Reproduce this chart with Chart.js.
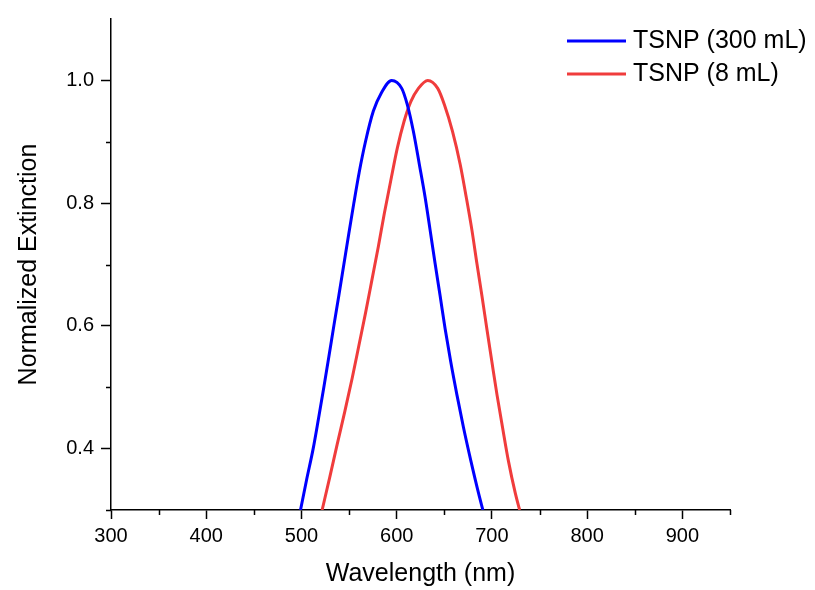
<!DOCTYPE html>
<html>
<head>
<meta charset="utf-8">
<script src="https://cdn.jsdelivr.net/npm/chart.js@4.4.1/dist/chart.umd.min.js"></script>
<style>
  html, body { margin: 0; padding: 0; background: #fff; }
  #wrap { width: 815px; height: 590px; }
</style>
</head>
<body>
<div id="wrap"><canvas id="spectra"></canvas></div>
<script>
// data
var seriesNames = ['TSNP (300 mL)', 'TSNP (8 mL)'];

var wave300 = [499, 505.5, 512.3, 518, 523.5, 528.8, 534, 539.3, 544.5, 549.7, 555, 560.6, 567.2, 575.5, 584, 594.7,
               605.3, 611.2, 617.5, 623.8, 629.8, 635.1, 640.3, 645.6, 650.9, 656.8, 663.2, 670.2, 677.9, 686, 690.5];
var ext300 = [0.30, 0.35, 0.40, 0.45, 0.50, 0.55, 0.60, 0.65, 0.70, 0.75, 0.80, 0.85, 0.90, 0.95, 0.98, 1.0,
              0.987, 0.960, 0.917, 0.863, 0.810, 0.756, 0.702, 0.649, 0.595, 0.541, 0.488, 0.434, 0.380, 0.327, 0.30];

var wave8 = [521.7, 529.8, 537.5, 545.6, 553.3, 560.3, 567.4, 574, 580.7, 587, 593.7, 600.7, 607.7, 614.7, 622.8, 632.6,
             643.1, 650.2, 658.6, 666.7, 673, 679, 684.2, 689.5, 694.7, 700, 705.3, 711.2, 717.3, 724.6, 729.1];
var ext8 = [0.30, 0.354, 0.407, 0.461, 0.515, 0.568, 0.622, 0.675, 0.729, 0.783, 0.836, 0.890, 0.933, 0.965, 0.987, 1.0,
            0.987, 0.960, 0.917, 0.863, 0.810, 0.756, 0.702, 0.649, 0.595, 0.541, 0.488, 0.434, 0.380, 0.327, 0.30];

var xTicks = [300, 400, 500, 600, 700, 800, 900];
var xMinor = [350, 450, 550, 650, 750, 850, 950];
var yTicks = [0.4, 0.6, 0.8, 1.0];
var yMinor = [0.3, 0.5, 0.7, 0.9];

var colors = ['#0000ff', '#f03c3c'];

function toPoints(xs, ys) {
  var pts = [];
  for (var i = 0; i < xs.length; i++) {
    pts.push({ x: xs[i], y: ys[i] });
  }
  return pts;
}

var tickFont = { family: 'Arial, "Liberation Sans", sans-serif', size: 20 };
var titleFont = { family: 'Arial, "Liberation Sans", sans-serif', size: 25 };

// short ticks in between the labelled ones
var minorTicks = {
  id: 'minorTicks',
  afterDraw: function (chart) {
    var ctx = chart.ctx;
    var xs = chart.scales.x;
    var ys = chart.scales.y;
    ctx.save();
    ctx.strokeStyle = '#000';
    ctx.lineWidth = 1.5;
    ctx.beginPath();
    xMinor.forEach(function (v) {
      var px = Math.round(xs.getPixelForValue(v)) + 0.5;
      ctx.moveTo(px, xs.top);
      ctx.lineTo(px, xs.top + 5);
    });
    yMinor.forEach(function (v) {
      var py = Math.round(ys.getPixelForValue(v)) + 0.5;
      ctx.moveTo(ys.right, py);
      ctx.lineTo(ys.right - 5, py);
    });
    ctx.stroke();
    ctx.restore();
  }
};

// legend in the top right corner of the plot
var cornerLegend = {
  id: 'cornerLegend',
  afterDraw: function (chart) {
    var ctx = chart.ctx;
    var area = chart.chartArea;
    var x0 = area.right - 163;
    var y0 = area.top + 22;
    ctx.save();
    ctx.font = '25px Arial, "Liberation Sans", sans-serif';
    ctx.textBaseline = 'middle';
    chart.data.datasets.forEach(function (ds, i) {
      var y = y0 + i * 33;
      ctx.strokeStyle = ds.borderColor;
      ctx.lineWidth = 3;
      ctx.beginPath();
      ctx.moveTo(x0, y);
      ctx.lineTo(x0 + 59, y);
      ctx.stroke();
      ctx.fillStyle = '#000';
      ctx.fillText(ds.label, x0 + 66, y);
    });
    ctx.restore();
  }
};

var ctx = document.getElementById('spectra').getContext('2d');
var chart = new Chart(ctx, {
  type: 'line',
  data: {
    datasets: [
      {
        label: seriesNames[0],
        data: toPoints(wave300, ext300),
        borderColor: colors[0],
        borderWidth: 3,
        pointRadius: 0,
        fill: false,
        cubicInterpolationMode: 'monotone'
      },
      {
        label: seriesNames[1],
        data: toPoints(wave8, ext8),
        borderColor: colors[1],
        borderWidth: 3,
        pointRadius: 0,
        fill: false,
        cubicInterpolationMode: 'monotone'
      }
    ]
  },
  options: {
    responsive: true,
    maintainAspectRatio: false,
    animation: false,
    layout: { padding: { top: 13, right: 85, left: 0, bottom: 0 } },
    plugins: {
      legend: { display: false },
      tooltip: { enabled: false }
    },
    scales: {
      x: {
        type: 'linear',
        min: 300,
        max: 950,
        afterBuildTicks: function (scale) {
          scale.ticks = xTicks.map(function (v) { return { value: v }; });
        },
        afterFit: function (scale) { scale.height = 80; },
        grid: { display: true, drawOnChartArea: false, tickLength: 9, tickWidth: 1.5, tickColor: '#000' },
        border: { display: true, color: '#000', width: 1.5 },
        ticks: { color: '#000', font: tickFont, padding: 5, maxRotation: 0 },
        title: { display: true, text: 'Wavelength (nm)', color: '#000', font: titleFont, padding: { top: 0, bottom: 1 } }
      },
      y: {
        type: 'linear',
        min: 0.3,
        max: 1.1,
        afterBuildTicks: function (scale) {
          scale.ticks = yTicks.map(function (v) { return { value: v }; });
        },
        afterFit: function (scale) { scale.width = 111; },
        grid: { display: true, drawOnChartArea: false, tickLength: 10, tickWidth: 1.5, tickColor: '#000' },
        border: { display: true, color: '#000', width: 1.5 },
        ticks: {
          color: '#000',
          font: tickFont,
          padding: 7,
          callback: function (v) { return v.toFixed(1); }
        },
        title: { display: true, text: 'Normalized Extinction', color: '#000', font: titleFont, padding: { top: 14, bottom: 0 } }
      }
    }
  },
  plugins: [minorTicks, cornerLegend]
});
</script>
</body>
</html>
